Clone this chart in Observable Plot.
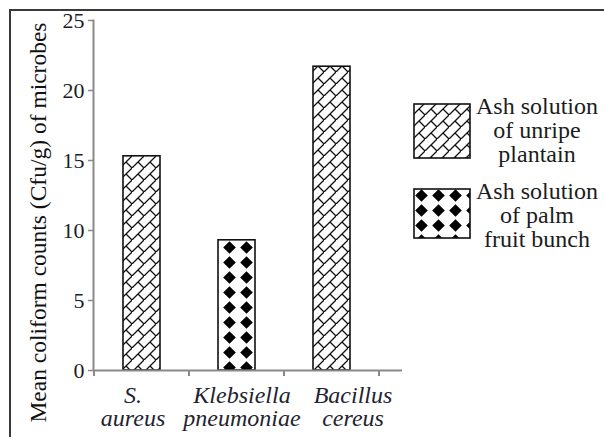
<!DOCTYPE html>
<html>
<head>
<meta charset="utf-8">
<script src="https://cdn.jsdelivr.net/npm/d3@7"></script>
<script src="https://cdn.jsdelivr.net/npm/@observablehq/plot@0.6"></script>
<style>
  body { margin: 0; background: #fff; }
  #wrap { position: relative; width: 604px; height: 437px; overflow: hidden; background: #fff;
          font-family: "Liberation Serif", "Times New Roman", serif; color: #1c1c1c; }
  #border { position: absolute; left: 9px; top: 9px; width: 640px; height: 470px;
            border-left: 2px solid #3a3a3a; border-top: 2px solid #3a3a3a; pointer-events: none; }
  #chart { position: absolute; left: 0; top: 0; }
  .legend-item { position: absolute; left: 413px; }
  .legend-item svg { position: absolute; left: 0; top: 0; }
  .legend-text { position: absolute; left: 62px; width: 124px; text-align: center;
                 font-size: 24px; line-height: 24px; white-space: nowrap; }
  #defs { position: absolute; width: 0; height: 0; }
</style>
</head>
<body>
<div id="wrap">
  <svg id="defs" width="0" height="0">
    <defs>
      <!-- diagonal brick hatch -->
      <pattern id="brick" patternUnits="userSpaceOnUse" width="12" height="12">
        <rect width="12" height="12" fill="#fff"/>
        <path d="M-1,13 L13,-1 M6,6 L12,12" stroke="#111" stroke-width="1.3" fill="none"/>
      </pattern>
      <!-- solid diamond hatch -->
      <pattern id="diamond" patternUnits="userSpaceOnUse" width="17" height="15">
        <rect width="17" height="15" fill="#fff"/>
        <path d="M8.5,1.2 L14.8,7.5 L8.5,13.8 L2.2,7.5 Z" fill="#000"/>
      </pattern>
    </defs>
  </svg>
  <div id="chart"></div>
  <div id="legend"></div>
  <div id="border"></div>
</div>
<script>
// Mean coliform counts per microbe and the ash solution used
const species = ["S. aureus", "Klebsiella pneumoniae", "Bacillus cereus"];
const speciesLabels = ["S.\naureus", "Klebsiella\npneumoniae", "Bacillus\ncereus"];
const counts = [15.3, 9.3, 21.7];
const treatments = ["Ash solution of unripe plantain", "Ash solution of palm fruit bunch"];
const treatmentOf = [0, 1, 0];
const legendLines = [["Ash solution", "of unripe", "plantain"], ["Ash solution", "of  palm", "fruit bunch"]];
const yTicks = [0, 5, 10, 15, 20, 25];
const yTitle = "Mean coliform counts (Cfu/g) of microbes";

const patterns = ["url(#brick)", "url(#diamond)"];
const labelShift = [-9, 5, 21];
const rows = species.map((s, i) => ({species: s, count: counts[i], treatment: treatments[treatmentOf[i]]}));

const chart = Plot.plot({
  width: 604,
  height: 437,
  marginLeft: 93,
  marginRight: 224,
  marginTop: 20,
  marginBottom: 67,
  style: {fontFamily: "'Liberation Serif', 'Times New Roman', serif", background: "transparent", color: "#1c1c1c"},
  x: {domain: species, padding: 0},
  y: {domain: [0, 25]},
  marks: [
    ...treatments.map((t, k) =>
      Plot.barY(rows.filter(d => d.treatment === t), {
        x: "species", y: "count", fill: patterns[k], stroke: "#111", strokeWidth: 1.6,
        insetLeft: 29, insetRight: 29
      })
    ),
    Plot.frame({anchor: "left", stroke: "#8a8a8a", strokeWidth: 2}),
    Plot.ruleY([0], {stroke: "#8a8a8a", strokeWidth: 2, insetRight: -22}),
    Plot.axisY({ticks: yTicks, tickSize: 5, tickPadding: 4, fontSize: 22, stroke: "#8a8a8a",
                strokeWidth: 1.5, label: null, fill: "#1c1c2a"}),
    ...species.map((s, i) =>
      Plot.axisX({ticks: [s], tickSize: 0, tickPadding: 17, fontSize: 24, fontStyle: "italic",
                  lineHeight: 0.93, label: null, fill: "#1f2430", dx: labelShift[i],
                  tickFormat: d => speciesLabels[species.indexOf(d)]})
    ),
    Plot.text([yTitle], {frameAnchor: "left", rotate: -90, dx: -55, dy: 27, fontSize: 23.5,
                         textAnchor: "middle", lineAnchor: "middle", fill: "#111"})
  ]
});

// category separator ticks below the x axis, from the band scale
const sx = chart.scale("x");
const y0 = chart.scale("y").apply(0);
const bounds = sx.domain.map(d => sx.apply(d)).concat(sx.apply(sx.domain[sx.domain.length - 1]) + sx.bandwidth);
d3.select(chart).append("g")
  .selectAll("line").data(bounds).join("line")
  .attr("x1", d => d).attr("x2", d => d)
  .attr("y1", y0).attr("y2", y0 + 6)
  .attr("stroke", "#8a8a8a").attr("stroke-width", 2);

document.getElementById("chart").appendChild(chart);

// legend with the same fills as the bars
const legendTops = [103, 188];
const legendHeights = [55, 50];
const textTops = [94, 179];
const legend = document.getElementById("legend");
treatments.forEach((t, k) => {
  const item = document.createElement("div");
  item.className = "legend-item";
  item.style.top = legendTops[k] + "px";
  item.title = t;
  item.innerHTML =
    `<svg width="58" height="${legendHeights[k] + 1}"><rect x="1" y="1" width="56" height="${legendHeights[k] - 1}" fill="${patterns[k]}" stroke="#111" stroke-width="1.6"/></svg>` +
    `<div class="legend-text" style="top:${textTops[k] - legendTops[k]}px">${legendLines[k].join("<br>")}</div>`;
  legend.appendChild(item);
});
</script>
</body>
</html>
